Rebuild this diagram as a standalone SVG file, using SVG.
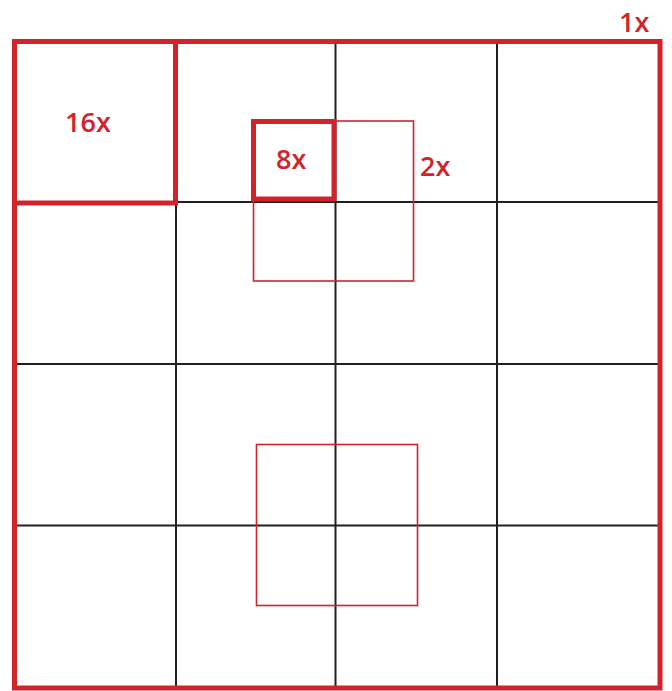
<svg xmlns="http://www.w3.org/2000/svg" width="672" height="691" viewBox="0 0 672 691">
  <style>
    .grid { stroke: #231f20; stroke-width: 2; fill: none; }
    .thick { stroke: #d2232a; stroke-width: 5; fill: none; }
    .thin { stroke: #d2232a; stroke-width: 1.6; fill: none; }
    .lbl { fill: #d2232a; font-family: "Open Sans", "Liberation Sans", sans-serif; font-size: 27px; font-weight: 600; }
  </style>
  <rect x="0" y="0" width="672" height="691" fill="#ffffff"/>
  <g id="grid">
    <line class="grid" x1="176" y1="41" x2="176" y2="688"/>
    <line class="grid" x1="335.5" y1="41" x2="335.5" y2="688"/>
    <line class="grid" x1="497" y1="41" x2="497" y2="688"/>
    <line class="grid" x1="14" y1="202" x2="660" y2="202"/>
    <line class="grid" x1="14" y1="364" x2="660" y2="364"/>
    <line class="grid" x1="14" y1="525.5" x2="660" y2="525.5"/>
  </g>
  <g id="box-1x">
    <rect class="thick" x="14.5" y="41.5" width="645.5" height="646.5"/>
    <text class="lbl" x="619" y="31.5">1x</text>
  </g>
  <g id="box-16x">
    <rect class="thick" x="14.5" y="41.5" width="161" height="161.5"/>
    <text class="lbl" x="65" y="132">16x</text>
  </g>
  <g id="box-2x">
    <rect class="thin" x="253.5" y="121" width="160" height="160"/>
    <text class="lbl" x="420" y="176">2x</text>
  </g>
  <g id="box-8x">
    <rect class="thick" x="253.5" y="121.5" width="80.5" height="77.5"/>
    <text class="lbl" x="276" y="169">8x</text>
  </g>
  <g id="box-lower">
    <rect class="thin" x="256.5" y="444.5" width="161" height="161"/>
  </g>
</svg>
